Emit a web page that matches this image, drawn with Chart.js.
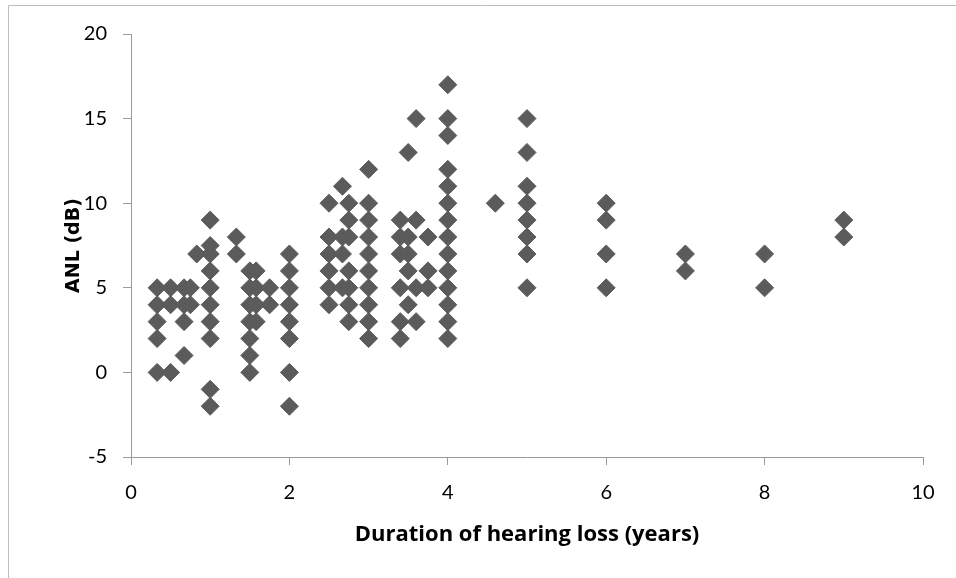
<!DOCTYPE html>
<html>
<head>
<meta charset="utf-8">
<script src="https://cdn.jsdelivr.net/npm/chart.js@4/dist/chart.umd.min.js"></script>
<style>
  html, body { margin: 0; padding: 0; background: #fff; }
  #wrap { width: 956px; height: 578px; position: relative; }
</style>
</head>
<body>
<div id="wrap"><canvas id="anlChart" width="956" height="578"></canvas></div>
<script>
// duration of hearing loss (years) and ANL (dB), one entry per point
const durationYears = [
    0.33, 0.33, 0.33, 0.33, 0.33,
    0.5, 0.5, 0.5,
    0.67, 0.67, 0.67, 0.67,
    0.75, 0.75,
    0.83,
    1, 1, 1, 1, 1, 1, 1, 1, 1, 1,
    1.33, 1.33,
    1.5, 1.5, 1.5, 1.5, 1.5, 1.5, 1.5,
    1.58, 1.58, 1.58, 1.58,
    1.75, 1.75,
    2, 2, 2, 2, 2, 2, 2, 2,
    2.5, 2.5, 2.5, 2.5, 2.5, 2.5,
    2.67, 2.67, 2.67, 2.67,
    2.75, 2.75, 2.75, 2.75, 2.75, 2.75, 2.75,
    3, 3, 3, 3, 3, 3, 3, 3, 3, 3,
    3.4, 3.4, 3.4, 3.4, 3.4, 3.4,
    3.5, 3.5, 3.5, 3.5, 3.5,
    3.6, 3.6, 3.6, 3.6,
    3.75, 3.75, 3.75,
    4, 4, 4, 4, 4, 4, 4, 4, 4, 4, 4, 4, 4, 4,
    4.6,
    5, 5, 5, 5, 5, 5, 5, 5,
    6, 6, 6, 6,
    7, 7,
    8, 8,
    9, 9
];
const anlValues = [
    5, 4, 3, 2, 0,
    5, 4, 0,
    5, 4, 3, 1,
    5, 4,
    7,
    9, 7.5, 7, 6, 5, 4, 3, 2, -1, -2,
    8, 7,
    6, 5, 4, 3, 2, 1, 0,
    6, 5, 4, 3,
    5, 4,
    7, 6, 5, 4, 3, 2, 0, -2,
    10, 8, 7, 6, 5, 4,
    11, 8, 7, 5,
    10, 9, 8, 6, 5, 4, 3,
    12, 10, 9, 8, 7, 6, 5, 4, 3, 2,
    9, 8, 7, 5, 3, 2,
    13, 8, 7, 6, 4,
    15, 9, 5, 3,
    8, 6, 5,
    17, 15, 14, 12, 11, 10, 9, 8, 7, 6, 5, 4, 3, 2,
    10,
    15, 13, 11, 10, 9, 8, 7, 5,
    10, 9, 7, 5,
    7, 6,
    7, 5,
    9, 8
];
const xTicks = [0, 2, 4, 6, 8, 10];
const yTicks = [-5, 0, 5, 10, 15, 20];

const points = durationYears.map((x, i) => ({ x: x, y: anlValues[i] }));

// thin frame round the chart, like the Excel chart area
const frame = {
    id: 'frame',
    beforeDraw(chart) {
        const c = chart.ctx;
        c.save();
        c.strokeStyle = '#bdbdbd';
        c.lineWidth = 1;
        c.beginPath();
        c.moveTo(8.5, 578);
        c.lineTo(8.5, 5.5);
        c.lineTo(956, 5.5);
        c.stroke();
        c.restore();
    }
};

const axisGrey = '#9a9a9a';
const tickFont = { family: 'Lato, "Open Sans", sans-serif', size: 20 };

new Chart(document.getElementById('anlChart').getContext('2d'), {
    type: 'scatter',
    data: {
        datasets: [{
            data: points,
            pointStyle: 'rectRot',
            pointRadius: 9,
            pointHoverRadius: 9,
            backgroundColor: '#5b5b5b',
            borderColor: '#5b5b5b',
            borderWidth: 1,
        }],
    },
    options: {
        responsive: false,
        animation: false,
        layout: { padding: { top: 34, right: 33, left: 0, bottom: 0 } },
        plugins: {
            legend: { display: false },
            tooltip: { enabled: false },
        },
        scales: {
            x: {
                type: 'linear',
                min: 0,
                max: 10,
                afterBuildTicks: (s) => { s.ticks = xTicks.map(v => ({ value: v })); },
                afterFit: (s) => { s.height = 121; },
                border: { color: axisGrey, width: 1 },
                grid: { drawOnChartArea: false, tickLength: 8, color: axisGrey },
                ticks: { color: '#000', font: tickFont, padding: 16, maxRotation: 0 },
                title: {
                    display: true,
                    text: 'Duration of hearing loss (years)',
                    color: '#000',
                    font: { family: '"Open Sans", Lato, sans-serif', size: 22, weight: 'bold' },
                    padding: { top: 30, bottom: 30 },
                },
            },
            y: {
                type: 'linear',
                min: -5,
                max: 20,
                afterBuildTicks: (s) => { s.ticks = yTicks.map(v => ({ value: v })); },
                afterFit: (s) => { s.width = 131; },
                border: { color: axisGrey, width: 1 },
                grid: { drawOnChartArea: false, tickLength: 8, color: axisGrey },
                ticks: { color: '#000', font: tickFont, padding: 16 },
                title: {
                    display: true,
                    text: 'ANL (dB)',
                    color: '#000',
                    font: { family: '"DejaVu Sans", Verdana, sans-serif', size: 19, weight: 'bold' },
                    padding: { top: 63, bottom: 63 },
                },
            },
        },
    },
    plugins: [frame],
});
</script>
</body>
</html>
